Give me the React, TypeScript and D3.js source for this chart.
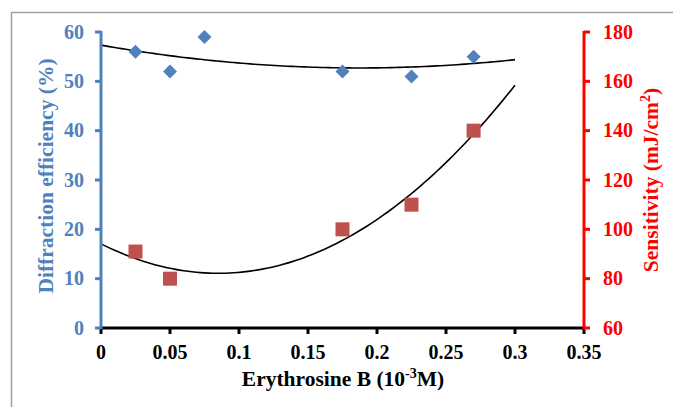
import React from "react";
import * as d3 from "d3";

const xTicks = [0, 0.05, 0.1, 0.15, 0.2, 0.25, 0.3, 0.35];
const leftTicks = [0, 10, 20, 30, 40, 50, 60];
const rightTicks = [60, 80, 100, 120, 140, 160, 180];

const effX = [0.025, 0.05, 0.075, 0.175, 0.225, 0.27];
const effY = [56, 52, 59, 52, 51, 55];
const sensX = [0.025, 0.05, 0.175, 0.225, 0.27];
const sensY = [91, 80, 100, 110, 140];
const trendRange = [0, 0.3];

function quadFit(xs: number[], ys: number[]) {
  const n = xs.length;
  let s0 = n, s1 = 0, s2 = 0, s3 = 0, s4 = 0, t0 = 0, t1 = 0, t2 = 0;
  for (let i = 0; i < n; i++) {
    const x = xs[i], y = ys[i];
    s1 += x; s2 += x * x; s3 += x ** 3; s4 += x ** 4;
    t0 += y; t1 += x * y; t2 += x * x * y;
  }
  const M = [
    [s0, s1, s2, t0],
    [s1, s2, s3, t1],
    [s2, s3, s4, t2],
  ];
  for (let i = 0; i < 3; i++) {
    let p = i;
    for (let r = i + 1; r < 3; r++) if (Math.abs(M[r][i]) > Math.abs(M[p][i])) p = r;
    [M[i], M[p]] = [M[p], M[i]];
    for (let r = 0; r < 3; r++) {
      if (r === i) continue;
      const f = M[r][i] / M[i][i];
      for (let c = i; c < 4; c++) M[r][c] -= f * M[i][c];
    }
  }
  const a = M[0][3] / M[0][0], b = M[1][3] / M[1][1], c = M[2][3] / M[2][2];
  return (x: number) => a + b * x + c * x * x;
}

export default function App() {
  const W = 673, H = 407;
  const x = d3.scaleLinear().domain([0, 0.35]).range([101, 584]);
  const yL = d3.scaleLinear().domain([0, 60]).range([328, 32]);
  const yR = d3.scaleLinear().domain([60, 180]).range([328, 32]);
  const fE = quadFit(effX, effY);
  const fS = quadFit(sensX, sensY);
  const samples = d3.range(0, 101).map((i) => trendRange[0] + (trendRange[1] - trendRange[0]) * i / 100);
  const lineE = d3.line<number>().x((d) => x(d)).y((d) => yL(fE(d)))(samples) || "";
  const lineS = d3.line<number>().x((d) => x(d)).y((d) => yR(fS(d)))(samples) || "";
  const font = "'Liberation Serif', 'Times New Roman', serif";
  const blue = "#4F81BD";
  const red = "#FF0000";
  const ds = 7;
  const fs = 20;
  const ts = 21.5;
  return (
    <svg width={W} height={H} style={{ position: "absolute", left: 0, top: 0, fontFamily: font, fontWeight: "bold" }}>
      <rect x={0} y={0} width={W} height={H} fill="#fff" />
      <path d={`M11.5,${H} V12.5 H${W}`} fill="none" stroke="#A0A0A0" strokeWidth={1.5} />
      <path d={lineE} fill="none" stroke="#000" strokeWidth={1.6} />
      <path d={lineS} fill="none" stroke="#000" strokeWidth={1.6} />
      {effX.map((v, i) => (
        <path key={"e" + i} d={`M${x(v)},${yL(effY[i]) - ds} L${x(v) + ds},${yL(effY[i])} L${x(v)},${yL(effY[i]) + ds} L${x(v) - ds},${yL(effY[i])} Z`} fill={blue} />
      ))}
      {sensX.map((v, i) => (
        <rect key={"s" + i} x={x(v) - 7} y={yR(sensY[i]) - 7} width={14} height={14} fill="#C0504D" />
      ))}
      <line x1={x(0)} x2={x(0.35)} y1={328} y2={328} stroke="#000" strokeWidth={3} />
      {xTicks.map((t) => (
        <g key={"x" + t}>
          <line x1={x(t)} x2={x(t)} y1={328} y2={334} stroke="#000" strokeWidth={3} />
          <text x={x(t)} y={359} textAnchor="middle" fontSize={fs} fill="#000">{t}</text>
        </g>
      ))}
      <line x1={x(0)} x2={x(0)} y1={yL(0) + 1} y2={yL(60) - 1} stroke={blue} strokeWidth={3} />
      {leftTicks.map((t) => (
        <g key={"l" + t}>
          <line x1={x(0) - 6} x2={x(0)} y1={yL(t)} y2={yL(t)} stroke={blue} strokeWidth={3} />
          <text x={84} y={yL(t) + 6.5} textAnchor="end" fontSize={fs} fill={blue}>{t}</text>
        </g>
      ))}
      <line x1={x(0.35)} x2={x(0.35)} y1={yR(60) + 1} y2={yR(180) - 1} stroke={red} strokeWidth={3} />
      {rightTicks.map((t) => (
        <g key={"r" + t}>
          <line x1={x(0.35)} x2={x(0.35) + 6} y1={yR(t)} y2={yR(t)} stroke={red} strokeWidth={3} />
          <text x={603} y={yR(t) + 6.5} textAnchor="start" fontSize={fs} fill={red}>{t}</text>
        </g>
      ))}
      <text x={343} y={386} textAnchor="middle" fontSize={ts} fill="#000">
        Erythrosine B (10<tspan fontSize={14} dy={-8}>-3</tspan><tspan dy={8}>M)</tspan>
      </text>
      <text transform="translate(53,176) rotate(-90)" textAnchor="middle" fontSize={ts} fill={blue}>
        Diffraction efficiency (%)
      </text>
      <text transform="translate(658,180) rotate(-90)" textAnchor="middle" fontSize={ts} fill={red}>
        Sensitivity (mJ/cm<tspan fontSize={14} dy={-8}>2</tspan><tspan dy={8}>)</tspan>
      </text>
    </svg>
  );
}
